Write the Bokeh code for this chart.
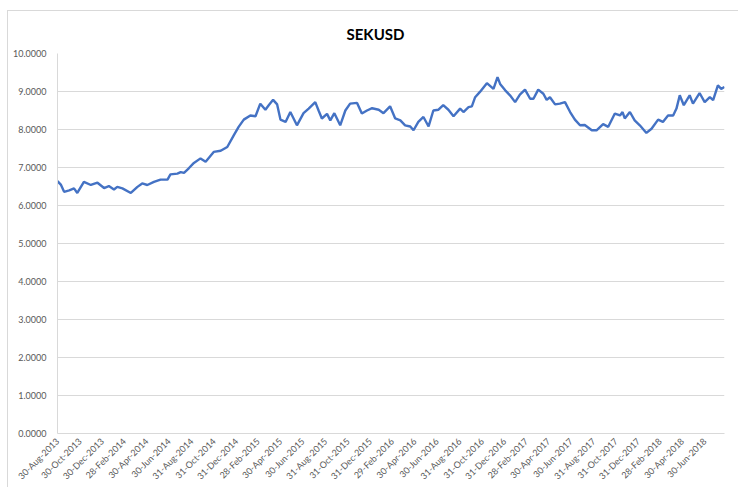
import pandas as pd
from math import pi
from bokeh.plotting import figure
from bokeh.models import FixedTicker, NumeralTickFormatter, Range1d
from bokeh.embed import file_html
from bokeh.resources import INLINE

dates = [
    "2013-08-30", "2013-09-08", "2013-09-17", "2013-10-01", "2013-10-14", "2013-10-23",
    "2013-11-10", "2013-11-29", "2013-12-17", "2014-01-04", "2014-01-17", "2014-01-31",
    "2014-02-09", "2014-02-23", "2014-03-18", "2014-04-05", "2014-04-18", "2014-05-02",
    "2014-05-20", "2014-06-07", "2014-06-26", "2014-07-04", "2014-07-23", "2014-08-01",
    "2014-08-10", "2014-08-23", "2014-09-06", "2014-09-24", "2014-10-08", "2014-10-30",
    "2014-11-18", "2014-12-06", "2014-12-24", "2015-01-06", "2015-01-20", "2015-02-07",
    "2015-02-21", "2015-03-06", "2015-03-20", "2015-03-29", "2015-04-10", "2015-04-21",
    "2015-04-30", "2015-05-14", "2015-05-27", "2015-06-14", "2015-07-02", "2015-07-16",
    "2015-08-03", "2015-08-12", "2015-08-21", "2015-09-04", "2015-09-13", "2015-09-24",
    "2015-10-10", "2015-10-24", "2015-11-06", "2015-11-25", "2015-12-08", "2015-12-22",
    "2016-01-05", "2016-01-23", "2016-02-05", "2016-02-23", "2016-03-08", "2016-03-22",
    "2016-04-04", "2016-04-18", "2016-04-27", "2016-05-10", "2016-05-24", "2016-06-07",
    "2016-06-20", "2016-07-04", "2016-07-17", "2016-07-31", "2016-08-14", "2016-09-01",
    "2016-09-10", "2016-09-24", "2016-10-03", "2016-10-12", "2016-10-25", "2016-11-13",
    "2016-12-01", "2016-12-12", "2016-12-19", "2017-01-02", "2017-01-15", "2017-01-29",
    "2017-02-11", "2017-02-25", "2017-03-11", "2017-03-20", "2017-04-02", "2017-04-16",
    "2017-04-25", "2017-05-04", "2017-05-18", "2017-05-31", "2017-06-14", "2017-06-28",
    "2017-07-11", "2017-07-25", "2017-08-07", "2017-08-26", "2017-09-08", "2017-09-26",
    "2017-10-10", "2017-10-28", "2017-11-11", "2017-11-18", "2017-11-24", "2017-12-08",
    "2017-12-21", "2018-01-04", "2018-01-22", "2018-02-05", "2018-02-23", "2018-03-08",
    "2018-03-22", "2018-04-05", "2018-04-14", "2018-04-23", "2018-05-04", "2018-05-20",
    "2018-05-29", "2018-06-16", "2018-06-30", "2018-07-14", "2018-07-23", "2018-08-05",
    "2018-08-14", "2018-08-23",
]

sekusd = [
    6.64, 6.55, 6.36, 6.40, 6.45, 6.33,
    6.62, 6.54, 6.60, 6.46, 6.51, 6.42,
    6.49, 6.45, 6.33, 6.49, 6.58, 6.54,
    6.62, 6.68, 6.68, 6.82, 6.84, 6.88,
    6.86, 6.98, 7.12, 7.24, 7.15, 7.41,
    7.44, 7.54, 7.85, 8.07, 8.26, 8.37,
    8.35, 8.68, 8.52, 8.64, 8.78, 8.66,
    8.26, 8.20, 8.46, 8.11, 8.43, 8.55,
    8.72, 8.50, 8.29, 8.41, 8.24, 8.43,
    8.11, 8.50, 8.68, 8.70, 8.42, 8.50,
    8.56, 8.52, 8.43, 8.61, 8.29, 8.24,
    8.11, 8.08, 7.98, 8.20, 8.33, 8.08,
    8.50, 8.52, 8.64, 8.52, 8.35, 8.55,
    8.46, 8.59, 8.61, 8.85, 8.99, 9.22,
    9.07, 9.38, 9.20, 9.03, 8.90, 8.72,
    8.92, 9.05, 8.81, 8.81, 9.05, 8.94,
    8.78, 8.85, 8.66, 8.68, 8.72, 8.46,
    8.26, 8.11, 8.12, 7.98, 7.98, 8.14,
    8.07, 8.42, 8.37, 8.46, 8.29, 8.46,
    8.24, 8.11, 7.91, 8.02, 8.26, 8.20,
    8.37, 8.37, 8.55, 8.90, 8.64, 8.90,
    8.68, 8.96, 8.72, 8.85, 8.77, 9.16,
    9.07, 9.12,
]

tick_labels = [
    "30-Aug-2013", "30-Oct-2013", "30-Dec-2013", "28-Feb-2014", "30-Apr-2014",
    "30-Jun-2014", "31-Aug-2014", "31-Oct-2014", "31-Dec-2014", "28-Feb-2015",
    "30-Apr-2015", "30-Jun-2015", "31-Aug-2015", "31-Oct-2015", "31-Dec-2015",
    "29-Feb-2016", "30-Apr-2016", "30-Jun-2016", "31-Aug-2016", "31-Oct-2016",
    "31-Dec-2016", "28-Feb-2017", "30-Apr-2017", "30-Jun-2017", "31-Aug-2017",
    "31-Oct-2017", "31-Dec-2017", "28-Feb-2018", "30-Apr-2018", "30-Jun-2018",
]

y_ticks = [0, 1, 2, 3, 4, 5, 6, 7, 8, 9, 10]

def to_ms(ts):
    return ts.value / 1e6

x = [to_ms(pd.Timestamp(d)) for d in dates]
tick_ms = [to_ms(pd.to_datetime(t, format="%d-%b-%Y")) for t in tick_labels]

p = figure(width=731, height=477, output_backend="svg", toolbar_location=None,
           title="SEKUSD", x_range=Range1d(x[0], x[-1]), y_range=Range1d(0, 10),
           min_border_left=49, min_border_right=15, min_border_top=42, min_border_bottom=54,
           margin=(10, 0, 0, 7))
p.styles = {"border-top": "1px solid #d9d9d9", "border-left": "1px solid #d9d9d9"}

p.line(x, sekusd, line_color="#4472c4", line_width=2.4)

p.title.text_font = "Lato"
p.title.text_font_size = "15px"
p.title.text_font_style = "bold"
p.title.text_color = "#000000"
p.title.align = "left"
p.title.offset = 289
p.title.standoff = 21

p.outline_line_color = None
p.background_fill_color = "white"
p.border_fill_color = "white"

p.xgrid.grid_line_color = None
p.ygrid.grid_line_color = "#d9d9d9"
p.ygrid.grid_line_width = 1
p.ygrid.ticker = FixedTicker(ticks=y_ticks)

p.yaxis.ticker = FixedTicker(ticks=y_ticks)
p.yaxis.formatter = NumeralTickFormatter(format="0.0000")
p.yaxis.axis_line_color = "#d9d9d9"
p.yaxis.major_tick_line_color = None
p.yaxis.minor_tick_line_color = None
p.yaxis.major_label_text_font = "Lato"
p.yaxis.major_label_text_font_size = "9px"
p.yaxis.major_label_text_color = "#595959"
p.yaxis.major_label_standoff = 5

p.xaxis.ticker = FixedTicker(ticks=tick_ms)
p.xaxis.major_label_overrides = {t: lab for t, lab in zip(tick_ms, tick_labels)}
p.xaxis.major_label_orientation = pi / 4
p.xaxis.axis_line_color = "#d9d9d9"
p.xaxis.major_tick_line_color = None
p.xaxis.minor_tick_line_color = None
p.xaxis.major_label_text_font = "Lato"
p.xaxis.major_label_text_font_size = "9px"
p.xaxis.major_label_text_color = "#595959"
p.xaxis.major_label_standoff = 0

open("out.html", "w").write(file_html(p, INLINE))
